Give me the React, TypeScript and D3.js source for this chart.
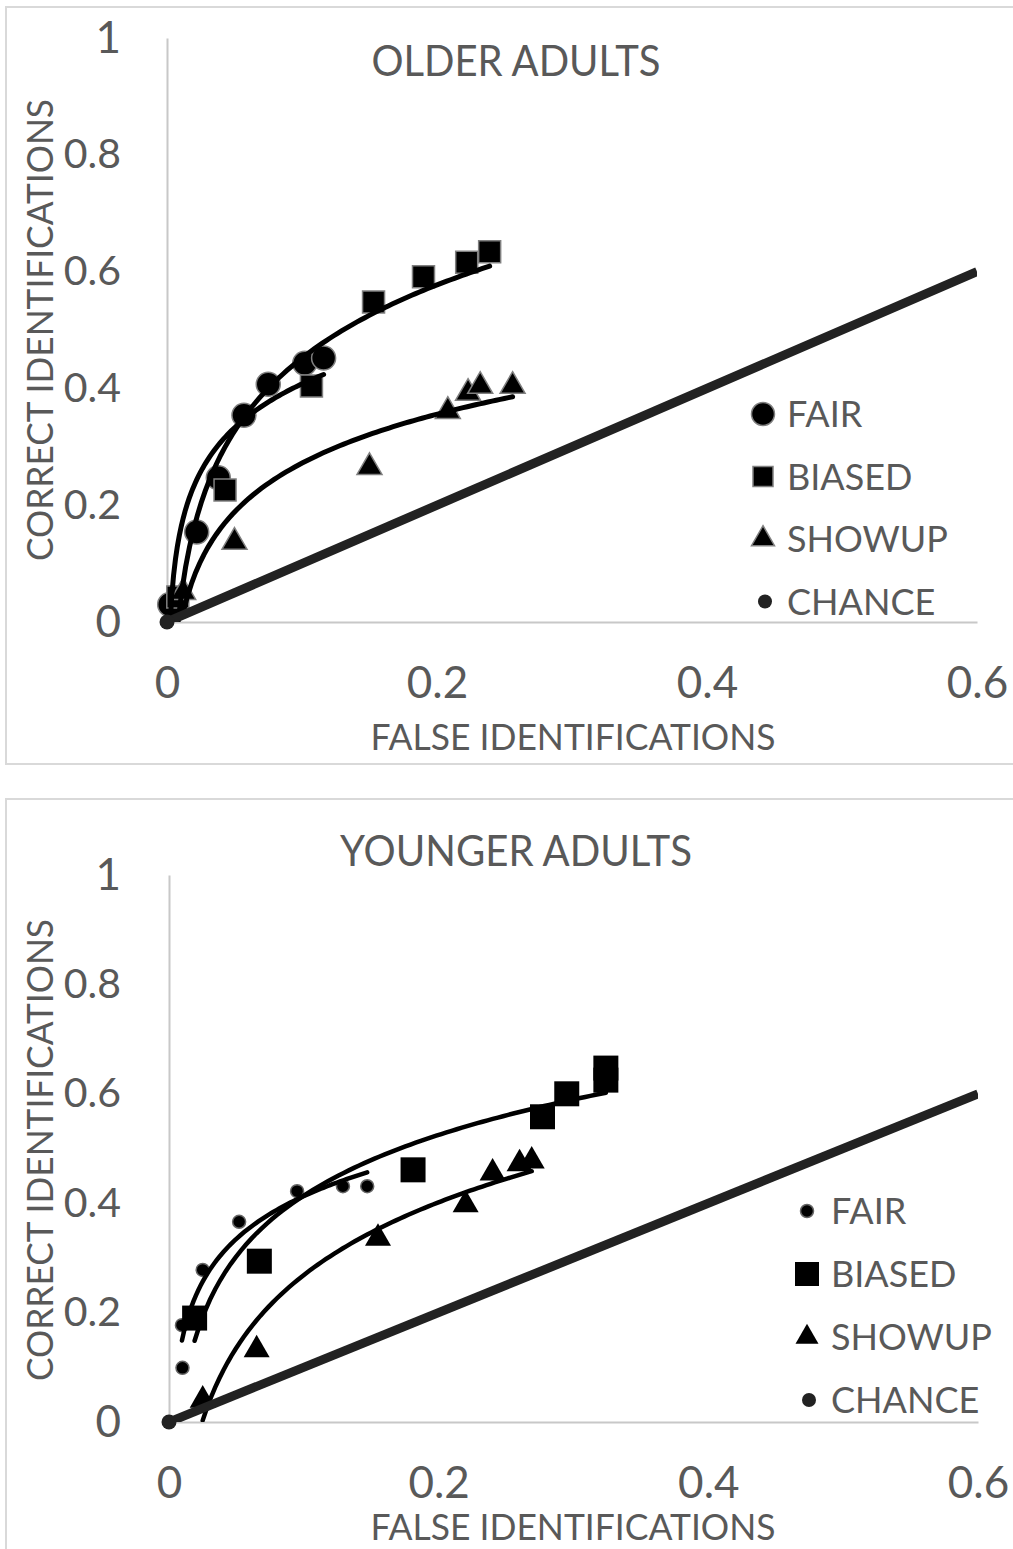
import React, { useRef, useEffect } from 'react'
import * as d3 from 'd3'

// axis ticks and legend
const xTicks = [0, 0.2, 0.4, 0.6]
const yTicks = [0, 0.2, 0.4, 0.6, 0.8, 1]
const legendLabels = ['FAIR', 'BIASED', 'SHOWUP', 'CHANCE']

// [false ids, correct ids]
const olderFair = [[0.002, 0.03], [0.022, 0.154], [0.038, 0.247], [0.057, 0.354], [0.075, 0.407], [0.102, 0.443], [0.116, 0.452]]
const olderBiased = [[0.008, 0.043], [0.043, 0.226], [0.107, 0.404], [0.153, 0.548], [0.19, 0.591], [0.222, 0.616], [0.239, 0.634]]
const olderShowup = [[0.012, 0.051], [0.05, 0.137], [0.15, 0.265], [0.208, 0.361], [0.223, 0.392], [0.232, 0.404], [0.256, 0.404]]

const youngerFair = [[0.0096, 0.177], [0.01, 0.099], [0.025, 0.278], [0.052, 0.366], [0.095, 0.422], [0.129, 0.431], [0.147, 0.431]]
const youngerBiased = [[0.019, 0.19], [0.067, 0.294], [0.181, 0.461], [0.277, 0.558], [0.295, 0.6], [0.324, 0.647], [0.324, 0.625]]
const youngerShowup = [[0.025, 0.04], [0.065, 0.132], [0.155, 0.336], [0.22, 0.397], [0.24, 0.455], [0.26, 0.472], [0.269, 0.477]]

const chance = [[0, 0], [0.6, 0.6]]

const TEXT = '#595959'
const FONT = "Lato, 'Open Sans', sans-serif"

// excel style logarithmic trendline y = a + b ln(x)
function logFit(pts: number[][]) {
    const lx = pts.map(p => Math.log(p[0]))
    const mx = d3.mean(lx) as number
    const my = d3.mean(pts, p => p[1]) as number
    let sxy = 0, sxx = 0
    pts.forEach((p, i) => {
        sxy += (lx[i] - mx) * (p[1] - my)
        sxx += (lx[i] - mx) * (lx[i] - mx)
    })
    const b = sxy / sxx
    return { a: my - b * mx, b }
}

function drawMarker(sel: any, kind: string, cx: number, cy: number, s: any) {
    if (kind === 'circle') {
        sel.append('circle').attr('cx', cx).attr('cy', cy).attr('r', s.r)
            .attr('fill', s.fill || 'black').attr('stroke', s.stroke).attr('stroke-width', s.sw)
        return
    }
    const type = kind === 'square' ? d3.symbolSquare : d3.symbolTriangle
    const size = kind === 'square' ? s.w * s.w : (Math.sqrt(3) / 4) * s.w * s.w
    sel.append('path')
        .attr('d', d3.symbol().type(type).size(size)())
        .attr('transform', `translate(${cx},${cy})`)
        .attr('fill', 'black').attr('stroke', s.stroke).attr('stroke-width', s.sw)
}

function drawPanel(svg: any, cfg: any, idx: number) {
    const x = d3.scaleLinear().domain([0, 0.6]).range([cfg.x0, cfg.x1])
    const y = d3.scaleLinear().domain([0, 1]).range([cfg.y0, cfg.y1])
    const g = svg.append('g')

    // chart frame
    g.append('rect')
        .attr('x', 6).attr('y', cfg.top)
        .attr('width', 1020).attr('height', cfg.frameH)
        .attr('fill', 'white').attr('stroke', '#d9d9d9').attr('stroke-width', 2)

    const clipId = 'clip' + idx
    g.append('clipPath').attr('id', clipId)
        .append('rect')
        .attr('x', cfg.x0).attr('y', cfg.y1)
        .attr('width', cfg.x1 - cfg.x0).attr('height', cfg.y0 - cfg.y1)

    // axes
    const xAxis = g.append('g')
        .attr('transform', `translate(0,${cfg.y0})`)
        .call(d3.axisBottom(x).tickValues(xTicks).tickSize(0).tickSizeOuter(0).tickPadding(45).tickFormat((d: any) => String(d)))
    const yAxis = g.append('g')
        .attr('transform', `translate(${cfg.x0},0)`)
        .call(d3.axisLeft(y).tickValues(yTicks).tickSize(0).tickSizeOuter(0).tickPadding(cfg.x0 - 121).tickFormat((d: any) => String(d)))
    ;[xAxis, yAxis].forEach(ax => {
        ax.select('.domain').attr('stroke', '#c8c8c8').attr('stroke-width', 2)
        ax.selectAll('text').attr('fill', TEXT).attr('font-family', FONT)
    })
    xAxis.selectAll('text').attr('font-size', 44)
    yAxis.selectAll('text').attr('font-size', (d: number) => (d === 0 || d === 1 ? 44 : 41))

    // titles
    g.append('text')
        .attr('x', 516).attr('y', cfg.titleY)
        .attr('text-anchor', 'middle').attr('fill', TEXT)
        .attr('font-family', FONT).attr('font-size', 43)
        .attr('textLength', cfg.titleW).attr('lengthAdjust', 'spacingAndGlyphs')
        .text(cfg.title)
    g.append('text')
        .attr('x', 573).attr('y', cfg.xTitleY)
        .attr('text-anchor', 'middle').attr('fill', TEXT)
        .attr('font-family', FONT).attr('font-size', 37)
        .attr('textLength', 405).attr('lengthAdjust', 'spacingAndGlyphs')
        .text('FALSE IDENTIFICATIONS')
    g.append('text')
        .attr('transform', `translate(53,${cfg.yTitleCy}) rotate(-90)`)
        .attr('text-anchor', 'middle').attr('fill', TEXT)
        .attr('font-family', FONT).attr('font-size', 37)
        .attr('textLength', 462).attr('lengthAdjust', 'spacingAndGlyphs')
        .text('CORRECT IDENTIFICATIONS')

    const m = cfg.marker
    const series = [
        { pts: cfg.fair, kind: 'circle', style: m.fair },
        { pts: cfg.biased, kind: 'square', style: m.biased },
        { pts: cfg.showup, kind: 'triangle', style: m.showup },
    ]

    // markers
    series.forEach(s => {
        s.pts.forEach((p: number[]) => drawMarker(g, s.kind, x(p[0]), y(p[1]), s.style))
    })

    // trendlines
    const line = d3.line<number[]>().x(d => x(d[0])).y(d => y(d[1]))
    series.forEach(s => {
        const fit = logFit(s.pts)
        const [lo, hi] = d3.extent(s.pts, (p: number[]) => p[0]) as [number, number]
        const curve = d3.range(0, 81).map(i => {
            const xv = lo + ((hi - lo) * i) / 80
            return [xv, fit.a + fit.b * Math.log(xv)]
        })
        g.append('path')
            .attr('d', line(curve))
            .attr('clip-path', `url(#${clipId})`)
            .attr('fill', 'none').attr('stroke', 'black')
            .attr('stroke-width', cfg.trendW).attr('stroke-linecap', 'round')
    })

    // chance diagonal
    g.append('path')
        .attr('d', line(chance))
        .attr('clip-path', `url(#${clipId})`)
        .attr('fill', 'none').attr('stroke', '#222').attr('stroke-width', 9)
    g.append('circle')
        .attr('cx', x(chance[0][0])).attr('cy', y(chance[0][1])).attr('r', 7.5)
        .attr('fill', '#222')

    // legend
    const lg = cfg.legend
    const kinds = ['circle', 'square', 'triangle', 'circle']
    const styles = [lg.fair, lg.biased, lg.showup, { r: 7, stroke: 'none', sw: 0, fill: '#222' }]
    legendLabels.forEach((lab, i) => {
        const cy = lg.y + i * lg.step
        drawMarker(g, kinds[i], lg.x + (i === 3 ? 2 : 0), cy, styles[i])
        g.append('text')
            .attr('x', lg.x + 24).attr('y', cy + 13)
            .attr('fill', TEXT).attr('font-family', FONT).attr('font-size', 36)
            .text(lab)
    })
}

export default function App() {
    const svgEl = useRef<SVGSVGElement>(null)

    useEffect(() => {
        if (!svgEl.current) return
        const svg = d3.select(svgEl.current)
        svg.selectAll('*').remove()

        const older = {
            title: 'OLDER ADULTS', titleW: 289, top: 7, frameH: 757,
            x0: 167, x1: 977, y0: 622, y1: 38,
            titleY: 76, xTitleY: 750, yTitleCy: 330, trendW: 5,
            fair: olderFair, biased: olderBiased, showup: olderShowup,
            marker: {
                fair: { r: 12, stroke: '#808080', sw: 1.5 },
                biased: { w: 22, stroke: '#808080', sw: 1.5 },
                showup: { w: 25, stroke: '#808080', sw: 1.5 },
            },
            legend: {
                x: 763, y: 414, step: 62.5,
                fair: { r: 11.5, stroke: '#808080', sw: 1.5 },
                biased: { w: 20, stroke: '#808080', sw: 1.5 },
                showup: { w: 23, stroke: '#808080', sw: 1.5 },
            },
        }
        const younger = {
            title: 'YOUNGER ADULTS', titleW: 352, top: 799, frameH: 800,
            x0: 169, x1: 978, y0: 1422, y1: 875,
            titleY: 866, xTitleY: 1540, yTitleCy: 1150, trendW: 4.5,
            fair: youngerFair, biased: youngerBiased, showup: youngerShowup,
            marker: {
                fair: { r: 6.5, stroke: '#666', sw: 1.5 },
                biased: { w: 25, stroke: 'none', sw: 0 },
                showup: { w: 26, stroke: 'none', sw: 0 },
            },
            legend: {
                x: 807, y: 1211, step: 63,
                fair: { r: 6.5, stroke: '#666', sw: 1.5 },
                biased: { w: 24, stroke: 'none', sw: 0 },
                showup: { w: 23, stroke: 'none', sw: 0 },
            },
        }
        drawPanel(svg, older, 0)
        drawPanel(svg, younger, 1)
    }, [])

    return (
        <div style={{ position: 'absolute', left: 0, top: 0 }}>
            <svg ref={svgEl} width={1013} height={1549} style={{ display: 'block', background: 'white' }} />
        </div>
    )
}
